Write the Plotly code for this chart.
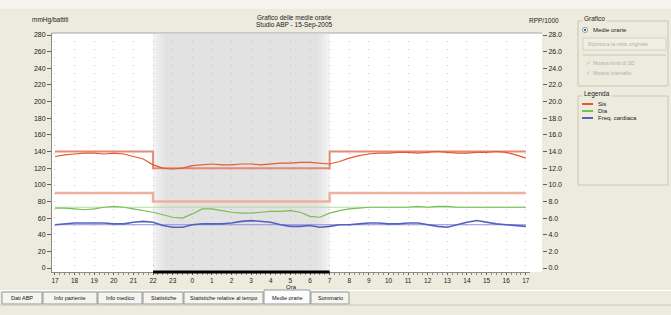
import plotly.graph_objects as go

W, H = 671, 315

# ---------------- data ----------------
hours = [17.0, 17.5, 18.0, 18.5, 19.0, 19.5, 20.0, 20.5, 21.0, 21.5,
         22.0, 22.5, 23.0, 23.5, 24.0, 24.5, 25.0, 25.5, 26.0, 26.5,
         27.0, 27.5, 28.0, 28.5, 29.0, 29.5, 30.0, 30.5, 31.0, 31.5,
         32.0, 32.5, 33.0, 33.5, 34.0, 34.5, 35.0, 35.5, 36.0, 36.5,
         37.0, 37.5, 38.0, 38.5, 39.0, 39.5, 40.0, 40.5, 41.0]
sis = [134, 136, 137, 138, 138, 137, 138, 137, 134, 131,
       124, 120, 119, 120, 123, 124, 125, 124, 124, 125,
       125, 124, 125, 126, 126, 127, 127, 126, 125, 128,
       132, 135, 137, 138, 138, 139, 139, 138, 139, 140,
       139, 138, 138, 139, 139, 140, 139, 136, 132]
dia = [72, 72, 71, 70, 71, 73, 74, 73, 71, 69,
       67, 64, 61, 60, 65, 71, 71, 69, 67, 66,
       66, 67, 68, 68, 69, 67, 62, 61, 66, 69,
       71, 72, 73, 73, 73, 73, 73, 74, 73, 74,
       74, 73, 73, 73, 73, 73, 73, 73, 73]
fc = [52, 53, 54, 54, 54, 54, 53, 53, 55, 56,
      55, 51, 49, 49, 52, 53, 53, 53, 54, 56,
      57, 56, 55, 52, 50, 50, 51, 49, 50, 52,
      52, 53, 54, 54, 53, 53, 54, 54, 52, 50,
      49, 52, 55, 57, 55, 53, 52, 51, 50]
dia_mean = 73
fc_mean = 52
sis_limit_day, sis_limit_night = 140, 120
dia_limit_day, dia_limit_night = 90, 80
night_start, night_end = 22, 31

x_tick_vals = list(range(17, 42))
x_tick_text = ["17", "18", "19", "20", "21", "22", "23", "0", "1", "2", "3", "4", "5",
               "6", "7", "8", "9", "10", "11", "12", "13", "14", "15", "16", "17"]
left_ticks = [0, 20, 40, 60, 80, 100, 120, 140, 160, 180, 200, 220, 240, 260, 280]
right_ticks = [0, 2, 4, 6, 8, 10, 12, 14, 16, 18, 20, 22, 24, 26, 28]

legend_names = ["Sis", "Dia", "Freq. cardiaca"]
tab_names = ["Dati ABP", "Info paziente", "Info medico", "Statistiche",
             "Statistiche relative al tempo", "Medie orarie", "Sommario"]

# ---------------- colors ----------------
C_SIS = "#E65A2E"
C_DIA = "#78BE55"
C_FC = "#5560C4"
C_LIM_S = "#E58878"
C_LIM_D = "#F2AE9E"
BG = "#EDEBDD"
FONT = "Liberation Sans"


def px(x):
    return x / W


def py(y):
    return 1 - y / H


fig = go.Figure()

x0, x1 = hours[0], hours[-1]
lim_x = [x0, night_start, night_start, night_end, night_end, x1]
sis_lim = [sis_limit_day, sis_limit_day, sis_limit_night, sis_limit_night, sis_limit_day, sis_limit_day]
dia_lim = [dia_limit_day, dia_limit_day, dia_limit_night, dia_limit_night, dia_limit_day, dia_limit_day]

fig.add_trace(go.Scatter(x=lim_x, y=dia_lim, mode="lines", line=dict(color=C_LIM_D, width=2.5),
                         hoverinfo="skip", showlegend=False))
fig.add_trace(go.Scatter(x=lim_x, y=sis_lim, mode="lines", line=dict(color=C_LIM_S, width=2),
                         hoverinfo="skip", showlegend=False))
fig.add_trace(go.Scatter(x=[x0, x1], y=[dia_mean, dia_mean], mode="lines",
                         line=dict(color="#B5DDA0", width=1), hoverinfo="skip", showlegend=False))
fig.add_trace(go.Scatter(x=[x0, x1], y=[fc_mean, fc_mean], mode="lines",
                         line=dict(color="#8C93D8", width=1), hoverinfo="skip", showlegend=False))
fig.add_trace(go.Scatter(x=hours, y=sis, mode="lines", name=legend_names[0],
                         line=dict(color=C_SIS, width=1.2), showlegend=False))
fig.add_trace(go.Scatter(x=hours, y=dia, mode="lines", name=legend_names[1],
                         line=dict(color=C_DIA, width=1.2), showlegend=False))
fig.add_trace(go.Scatter(x=hours, y=fc, mode="lines", name=legend_names[2],
                         line=dict(color=C_FC, width=1.6), showlegend=False))
# invisible trace for right axis
fig.add_trace(go.Scatter(x=[x0], y=[0], yaxis="y2", mode="markers",
                         marker=dict(opacity=0), hoverinfo="skip", showlegend=False))

# plot region in pixels
PL, PR, PT, PB = 52, 530, 33, 272
WHITE_R = 542

shapes = []
# header strip
shapes.append(dict(type="rect", xref="paper", yref="paper", x0=0, x1=1, y0=py(9), y1=1,
                   fillcolor="#F4F3EE", line=dict(width=0), layer="below"))
# white plot bg
shapes.append(dict(type="rect", xref="paper", yref="paper", x0=px(PL), x1=px(WHITE_R),
                   y0=py(PB), y1=py(PT), fillcolor="white", line=dict(width=0), layer="below"))
shapes.append(dict(type="line", xref="paper", yref="paper", x0=px(PL), x1=px(WHITE_R),
                   y0=py(PT), y1=py(PT), line=dict(color="#A8A8A0", width=1), layer="below"))
# night shading with soft edges
for d, col in [(0.0, "#F1F1F1"), (0.2, "#EBEBEB"), (0.4, "#E6E6E6"), (0.6, "#E2E2E2")]:
    shapes.append(dict(type="rect", xref="x", yref="paper", x0=night_start + d, x1=night_end - d,
                       y0=py(PB - 1), y1=py(PT + 1), fillcolor=col, line=dict(width=0), layer="below"))
# night bar on x axis
shapes.append(dict(type="line", xref="x", yref="paper", x0=night_start, x1=night_end,
                   y0=py(PB), y1=py(PB), line=dict(color="black", width=3), layer="above"))

annotations = []


def txt(x, y, s, size=6.5, color="#222", xanchor="left", **kw):
    annotations.append(dict(x=px(x), y=py(y), xref="paper", yref="paper", text=s, showarrow=False,
                            xanchor=xanchor, yanchor="middle", font=dict(family=FONT, size=size, color=color),
                            **kw))


txt(30, 20, "mmHg/battiti")
txt(294, 17, "Grafico delle medie orarie", xanchor="center")
txt(294, 25, "Studio ABP - 15-Sep-2005", xanchor="center")
txt(527, 20, "RPP/1000")
txt(291, 286.5, "Ora", size=6, xanchor="center")

# ---------------- right panel ----------------
shapes.append(dict(type="rect", xref="paper", yref="paper", x0=px(578), x1=px(668), y0=py(86), y1=py(21),
                   fillcolor="rgba(0,0,0,0)", line=dict(color="#C9C6B4", width=1)))
txt(582, 18, "Grafico", size=6.5, bgcolor=BG)
shapes.append(dict(type="circle", xref="paper", yref="paper", x0=px(582.5), x1=px(587.5), y0=py(32.5), y1=py(27.5),
                   fillcolor="white", line=dict(color="#7F9DB9", width=1)))
shapes.append(dict(type="circle", xref="paper", yref="paper", x0=px(584), x1=px(586), y0=py(31), y1=py(29),
                   fillcolor="#333", line=dict(width=0)))
txt(591, 30, "Medie orarie", size=6)
shapes.append(dict(type="rect", xref="paper", yref="paper", x0=px(583), x1=px(666), y0=py(50), y1=py(38),
                   fillcolor="#F0EFE6", line=dict(color="#D3D0C0", width=1)))
txt(586, 44, "Ripristina la vista originale", size=5.2, color="#B4B1A2")
shapes.append(dict(type="line", xref="paper", yref="paper", x0=px(583), x1=px(666), y0=py(55), y1=py(55),
                   line=dict(color="#C9C6B4", width=1)))
txt(584, 63, "✓", size=6, color="#B4B1A2")
txt(591, 63, "Mostra limiti di SD", size=5.2, color="#B4B1A2")
txt(584, 73, "✓", size=6, color="#B4B1A2")
txt(591, 73, "Mostra intervallo", size=5.2, color="#B4B1A2")

shapes.append(dict(type="rect", xref="paper", yref="paper", x0=px(578), x1=px(668), y0=py(185), y1=py(96),
                   fillcolor="rgba(0,0,0,0)", line=dict(color="#C9C6B4", width=1)))
txt(582, 94, "Legenda", size=6.5, bgcolor=BG)
for i, (name, col) in enumerate(zip(legend_names, [C_SIS, C_DIA, C_FC])):
    yy = 104 + 7 * i
    shapes.append(dict(type="line", xref="paper", yref="paper", x0=px(582), x1=px(593), y0=py(yy), y1=py(yy),
                       line=dict(color=col, width=2)))
    txt(596, yy, name, size=6)

# ---------------- tabs ----------------
tab_edges = [(2, 42), (43, 97), (98, 142), (143, 183), (184, 263), (264, 310), (311, 349)]
shapes.append(dict(type="line", xref="paper", yref="paper", x0=0, x1=1, y0=py(290.5), y1=py(290.5),
                   line=dict(color="#FFFFFF", width=1)))
for (a, b), name in zip(tab_edges, tab_names):
    sel = name == "Medie orarie"
    top = 290 if sel else 292
    shapes.append(dict(type="rect", xref="paper", yref="paper", x0=px(a), x1=px(b), y0=py(304), y1=py(top),
                       fillcolor="#FCFCFE" if sel else "#F5F4EE", line=dict(color="#919B9C", width=1)))
    txt((a + b) / 2, 298, name, size=5.5, color="#111", xanchor="center")
shapes.append(dict(type="line", xref="paper", yref="paper", x0=0, x1=1, y0=py(305), y1=py(305),
                   line=dict(color="#C9C6B4", width=1)))

xr0 = 17 - (55 - PL) / 19.67
xr1 = 41 + (PR - 525.8) / 19.67
yr0 = (268 - PB) / 0.832   # negative: axis line sits a little below 0
yr1 = (268 - PT) / 0.832

fig.update_layout(
    width=W, height=H,
    margin=dict(l=0, r=0, t=0, b=0, autoexpand=False),
    paper_bgcolor=BG,
    plot_bgcolor="rgba(0,0,0,0)",
    showlegend=False,
    font=dict(family=FONT, size=7, color="#222"),
    xaxis=dict(domain=[px(PL), px(PR)], range=[xr0, xr1], tickmode="array", automargin=False,
               tickvals=x_tick_vals, ticktext=x_tick_text, ticks="outside", ticklen=2,
               tickcolor="#606060", showline=True, linecolor="#8A8A8A", linewidth=1,
               showgrid=True, gridcolor="#BEBEBE", griddash="1px,7px", gridwidth=1,
               zeroline=False, tickfont=dict(size=6.5, color="#222"),
               minor=dict(dtick=0.25, tick0=17, ticklen=2, ticks="outside", tickcolor="#8A8A8A", showgrid=False)),
    yaxis=dict(domain=[py(PB), py(PT)], range=[yr0, yr1], tickmode="array", tickvals=left_ticks,
               automargin=False, ticklabeloverflow="allow",
               ticks="outside", ticklen=4, tickcolor="#606060", showline=True, linecolor="#8A8A8A",
               showgrid=False, zeroline=False, tickfont=dict(size=7, color="#222")),
    yaxis2=dict(overlaying="y", anchor="free", position=px(542), side="right", automargin=False,
                ticklabeloverflow="allow",
                range=[yr0 / 10, yr1 / 10], tickmode="array", tickvals=right_ticks,
                tickformat=".1f", ticks="outside", ticklen=4, tickcolor="#606060",
                showline=False, showgrid=False, zeroline=False, tickfont=dict(size=7, color="#222")),
    shapes=shapes,
    annotations=annotations,
)

fig.write_html("out.html", config={"displayModeBar": False},
               post_script="document.body.style.margin='0px';document.body.style.overflow='hidden';")
